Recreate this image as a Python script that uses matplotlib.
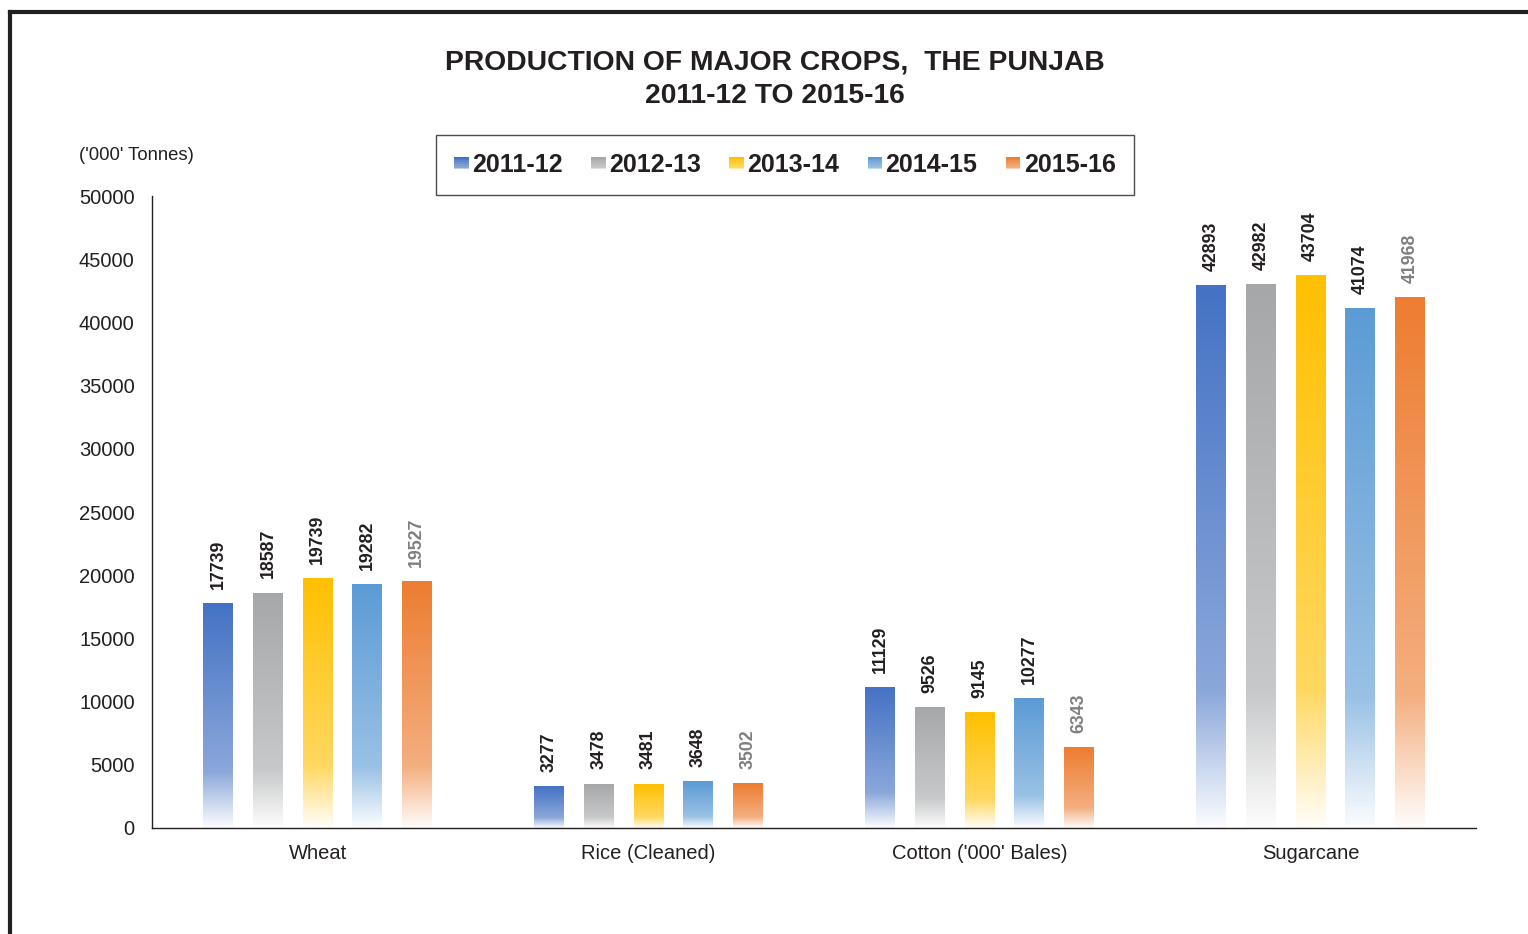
import numpy as np
import matplotlib
matplotlib.use("Agg")
import matplotlib.pyplot as plt
from matplotlib.patches import Rectangle
from matplotlib.colors import to_rgb
from matplotlib.legend_handler import HandlerBase
from matplotlib.lines import Line2D

plt.rcParams['font.family'] = ['Liberation Sans', 'DejaVu Sans']

# data
crops = ['Wheat', 'Rice (Cleaned)', "Cotton ('000' Bales)", 'Sugarcane']
years = ['2011-12', '2012-13', '2013-14', '2014-15', '2015-16']
v_2011 = [17739, 3277, 11129, 42893]
v_2012 = [18587, 3478, 9526, 42982]
v_2013 = [19739, 3481, 9145, 43704]
v_2014 = [19282, 3648, 10277, 41074]
v_2015 = [19527, 3502, 6343, 41968]
series = [v_2011, v_2012, v_2013, v_2014, v_2015]
colors = ['#4472C4', '#A5A7A9', '#FFC000', '#5B9BD5', '#ED7D31']
label_colors = ['#231f20', '#231f20', '#231f20', '#231f20', '#7f7f7f']


def gradient(color, n=200):
    # top = full colour, fades slowly then quickly to white near the bottom
    t = np.linspace(1, 0, n)  # 1 at top row, 0 at bottom row
    w = np.where(t > 0.25, 0.38 * (1 - t) / 0.75, 0.38 + 0.6 * (0.25 - t) / 0.25)
    c = np.array(to_rgb(color))
    rows = c[None, :] * (1 - w[:, None]) + w[:, None]
    return rows[:, None, :]


fig = plt.figure(figsize=(15.28, 9.34), dpi=100)
ax = fig.add_axes([0.0995, 0.1135, 0.8665, 0.6766])

x = np.arange(len(crops))
width = 0.09
step = 0.15
for i, (vals, col) in enumerate(zip(series, colors)):
    pos = x + (i - 2) * step
    bars = ax.bar(pos, vals, width, color='none', edgecolor='none')
    for b, v in zip(bars, vals):
        x0 = b.get_x()
        ax.imshow(gradient(col), extent=[x0, x0 + width, 0, v], aspect='auto',
                  interpolation='bilinear', zorder=2)
        ax.annotate(str(v), (b.get_x() + width / 2, v), xytext=(0, 10.5),
                    textcoords='offset points', rotation=90, ha='center', va='bottom',
                    fontsize=12.8, fontweight='bold', color=label_colors[i])

ax.set_xlim(-0.5, 3.5)
ax.set_ylim(0, 50000)
ax.set_yticks(np.arange(0, 50001, 5000))
ax.set_xticks(x)
ax.set_xticklabels(crops)
ax.tick_params(axis='both', length=0, labelsize=14.5, colors='#231f20')
ax.tick_params(axis='y', pad=12.5)
ax.tick_params(axis='x', pad=11.5)
for s in ['top', 'right']:
    ax.spines[s].set_visible(False)
for s in ['left', 'bottom']:
    ax.spines[s].set_color('#231f20')
    ax.spines[s].set_linewidth(1)

fig.text(0.507, 0.933, 'PRODUCTION OF MAJOR CROPS,  THE PUNJAB', ha='center', va='center',
         fontsize=20.3, fontweight='bold', color='#231f20')
fig.text(0.507, 0.897, '2011-12 TO 2015-16', ha='center', va='center',
         fontsize=20.3, fontweight='bold', color='#231f20')
fig.text(0.052, 0.834, "('000' Tonnes)", ha='left', va='center', fontsize=13.3, color='#231f20')


class GradHandler(HandlerBase):
    def create_artists(self, legend, orig_handle, xdescent, ydescent, width, height, fontsize, trans):
        col = orig_handle.get_color()
        n = 8
        g = gradient(col, n)[:, 0, :]
        side = height * 0.9
        x0 = width - side
        arts = []
        for k in range(n):
            r = Rectangle((x0 - xdescent, -ydescent + side * (n - 1 - k) / n), side, side / n,
                          facecolor=g[k], edgecolor='none', transform=trans)
            arts.append(r)
        return arts


handles = [Line2D([], [], color=c) for c in colors]
leg = fig.legend(handles, years, loc='center', bbox_to_anchor=(0.5135, 0.8233), ncol=5,
                 handler_map={Line2D: GradHandler()}, handlelength=0.6, handleheight=0.6,
                 handletextpad=0.15, columnspacing=1.1, borderpad=0.72, borderaxespad=0,
                 fancybox=False, prop={'size': 18, 'weight': 'bold'}, labelcolor='#231f20')
leg.get_frame().set_edgecolor('#231f20')
leg.get_frame().set_linewidth(1)

# outer frame lines (top and left)
fig.add_artist(Line2D([0.0065, 1.0], [0.9872, 0.9872], transform=fig.transFigure,
                      color='#231f20', linewidth=3))
fig.add_artist(Line2D([0.0065, 0.0065], [0.0, 0.9872], transform=fig.transFigure,
                      color='#231f20', linewidth=3))

fig.savefig('out.png', dpi=100)
